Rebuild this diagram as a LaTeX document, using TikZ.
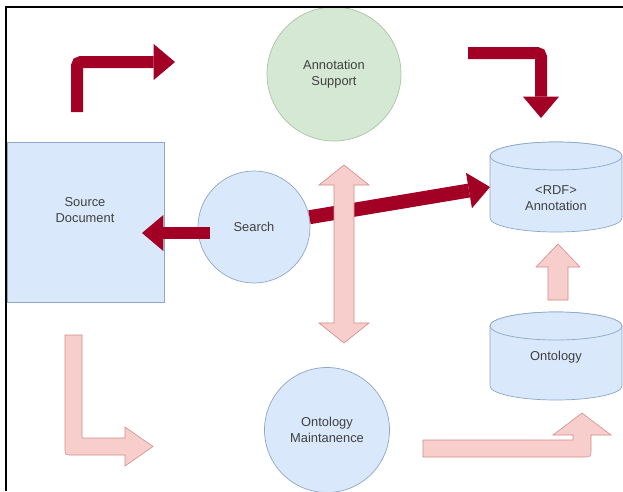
\documentclass[tikz,border=0pt]{standalone}
\usepackage{fontspec}
\setmainfont{Liberation Sans}
\usetikzlibrary{arrows.meta}

\definecolor{blueFill}{HTML}{DAE8FC}
\definecolor{blueLine}{HTML}{8EA6C8}
\definecolor{greenFill}{HTML}{D5E8D4}
\definecolor{greenLine}{HTML}{A9C4A2}
\definecolor{pinkFill}{HTML}{F8CECC}
\definecolor{pinkLine}{HTML}{D08C88}
\definecolor{darkRed}{HTML}{A20025}
\definecolor{textGray}{HTML}{404040}

\tikzset{
  lbl/.style={text=textGray, align=center, font=\fontsize{11}{13.5}\selectfont},
  bluebox/.style={lbl, draw=blueLine, fill=blueFill, line width=0.6pt},
  bluecirc/.style={bluebox, circle, inner sep=0pt},
  greencirc/.style={lbl, circle, inner sep=0pt, draw=greenLine, fill=greenFill, line width=0.6pt},
  dbase/.style={draw=blueLine, fill=blueFill, line width=0.6pt},
  redarrow/.style={draw=darkRed, line width=0.36cm, rounded corners=0.12cm,
    -{Triangle[width=1.08cm 0 0, length=0.64cm 0 0, line width=0pt 0 0]}},
  pinkarrow/.style={draw=pinkLine, fill=pinkFill, line width=0.5pt}
}

\begin{document}
\begin{tikzpicture}[x=0.03cm, y=-0.03cm]
  \useasboundingbox (0,0) rectangle (623,491);

  % shapes
  \node[bluebox, minimum width=4.71cm, minimum height=4.8cm] (src) at (85.5,222) {};
  \node[lbl] (srcText) at (85,210) {Source\\Document};
  \node[greencirc, minimum size=4.02cm] (supp) at (334,74) {Annotation\\Support};
  \node[bluecirc, minimum size=3.36cm] (search) at (254,227) {Search};
  \node[bluecirc, minimum size=3.75cm] (maint) at (327,430) {Ontology\\Maintanence};

  % databases
  \filldraw[dbase] (490,156) -- (490,218) arc[start angle=180, end angle=0, x radius=66, y radius=14]
    -- (622,156) arc[start angle=0, end angle=-180, x radius=66, y radius=14] -- cycle;
  \draw[dbase] (556,156) ellipse[x radius=66, y radius=14];
  \node[lbl] (rdf) at (556,198) {<RDF>\\Annotation};

  \filldraw[dbase] (490,326) -- (490,386) arc[start angle=180, end angle=0, x radius=66, y radius=14]
    -- (622,326) arc[start angle=0, end angle=-180, x radius=66, y radius=14] -- cycle;
  \draw[dbase] (556,326) ellipse[x radius=66, y radius=14];
  \node[lbl] (onto) at (556,357) {Ontology};

  % dark red arrows
  \coordinate (topA) at (77,112);
  \coordinate (topB) at (77,62);
  \coordinate (topC) at (175,62);
  \coordinate (rightA) at (468,53);
  \coordinate (rightB) at (541,53);
  \coordinate (rightC) at (541,118);
  \coordinate (leftA) at (210,233);
  \coordinate (leftB) at (142,233);
  \coordinate (rdfIn) at (490,187);
  \draw[redarrow] (topA) -- (topB) -- (topC);
  \draw[redarrow] (rightA) -- (rightB) -- (rightC);
  \draw[redarrow] (leftA) -- (leftB);
  \draw[redarrow, line width=0.42cm] (search.10) -- (rdfIn);

  % pink arrows
  \filldraw[pinkarrow] (344,165) -- (369,185) -- (354,185) -- (354,323) -- (369,323) -- (344,343)
    -- (319,323) -- (334,323) -- (334,185) -- (319,185) -- cycle;
  \filldraw[pinkarrow] (558,244) -- (580,267) -- (568,267) -- (568,300) -- (548,300) -- (548,267)
    -- (536,267) -- cycle;
  \filldraw[pinkarrow] (82,335) -- (82,438) -- (125,438) -- (125,427) -- (153,446.5) -- (125,466)
    -- (125,455) -- (72,455) .. controls (65,455) .. (65,448) -- (65,335) -- cycle;
  \filldraw[pinkarrow] (423,440) -- (573,440) -- (573,435) -- (553,435) -- (582,413) -- (611,435)
    -- (591,435) -- (591,449) .. controls (591,457) .. (583,457) -- (423,457) -- cycle;

  % frame
  \draw[line width=0.06cm] (6,491) -- (6,7) -- (623,7);
\end{tikzpicture}
\end{document}
